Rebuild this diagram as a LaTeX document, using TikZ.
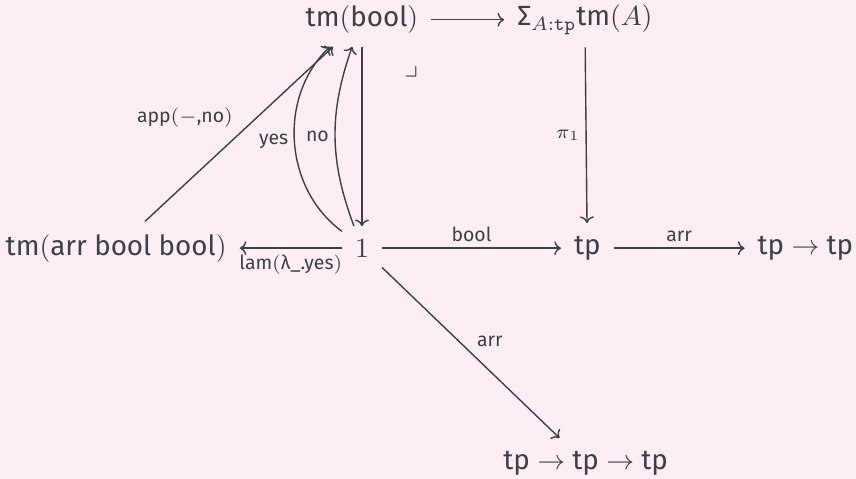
\documentclass[tikz,border=0pt]{standalone}
\usepackage{fontspec}
\setmainfont{Fira Sans}
\usepackage{amsmath}
\usepackage{amssymb}
\usetikzlibrary{arrows.meta}
\definecolor{bgpink}{HTML}{FDEEF4}
\definecolor{ink}{HTML}{3B3F49}

\begin{document}
\begin{tikzpicture}[
    obj/.style={inner sep=4.5pt, text=ink},
    lbl/.style={font=\scriptsize, text=ink, inner sep=2pt},
    arrow/.style={-{Computer Modern Rightarrow[length=2.4pt, width=5pt]}, draw=ink, line width=0.5pt}
]
\fill[bgpink] (0,0) rectangle (10.83,6.06);
\useasboundingbox (0,0) rectangle (10.83,6.06);
\node[obj] (tmbool) at (4.58,5.81) {tm$($bool$)$};
\node[obj] (sigma) at (7.40,5.81) {Σ$_{A:\mathtt{tp}}$tm$(A)$};
\node[obj] (tmarr) at (1.47,2.92) {tm$($arr bool bool$)$};
\node[obj] (one) at (4.58,2.92) {$1$};
\node[obj] (tp) at (7.43,2.92) {tp};
\node[obj] (tptp) at (10.19,2.92) {tp $\to$ tp};
\node[obj] (tptptp) at (7.41,0.20) {tp $\to$ tp $\to$ tp};
\draw[arrow] (tmbool) -- (sigma);
\draw[arrow] (tmbool) -- (one);
\draw[arrow] (sigma) -- node[lbl, left] {$\pi_1$} (tp);
\draw[arrow] (one) -- node[lbl, above] {bool} (tp);
\draw[arrow] (tp) -- node[lbl, above] {arr} (tptp);
\draw[arrow] (one) -- node[lbl, below] {lam$($λ\_.yes$)$} (tmarr);
\draw[arrow] (one) -- node[lbl, above right] {arr} (tptptp);
\draw[arrow] (tmarr) -- node[lbl, above left] {app$(-$,no$)$} (tmbool);
\draw[arrow] (one) to[bend left=50] node[lbl, left] {yes} (tmbool);
\draw[arrow] (one) to[bend left=20] node[lbl, left] {no} (tmbool);
\node[text=ink] (pb) at (5.20,5.16) {$\lrcorner$};
\end{tikzpicture}
\end{document}
